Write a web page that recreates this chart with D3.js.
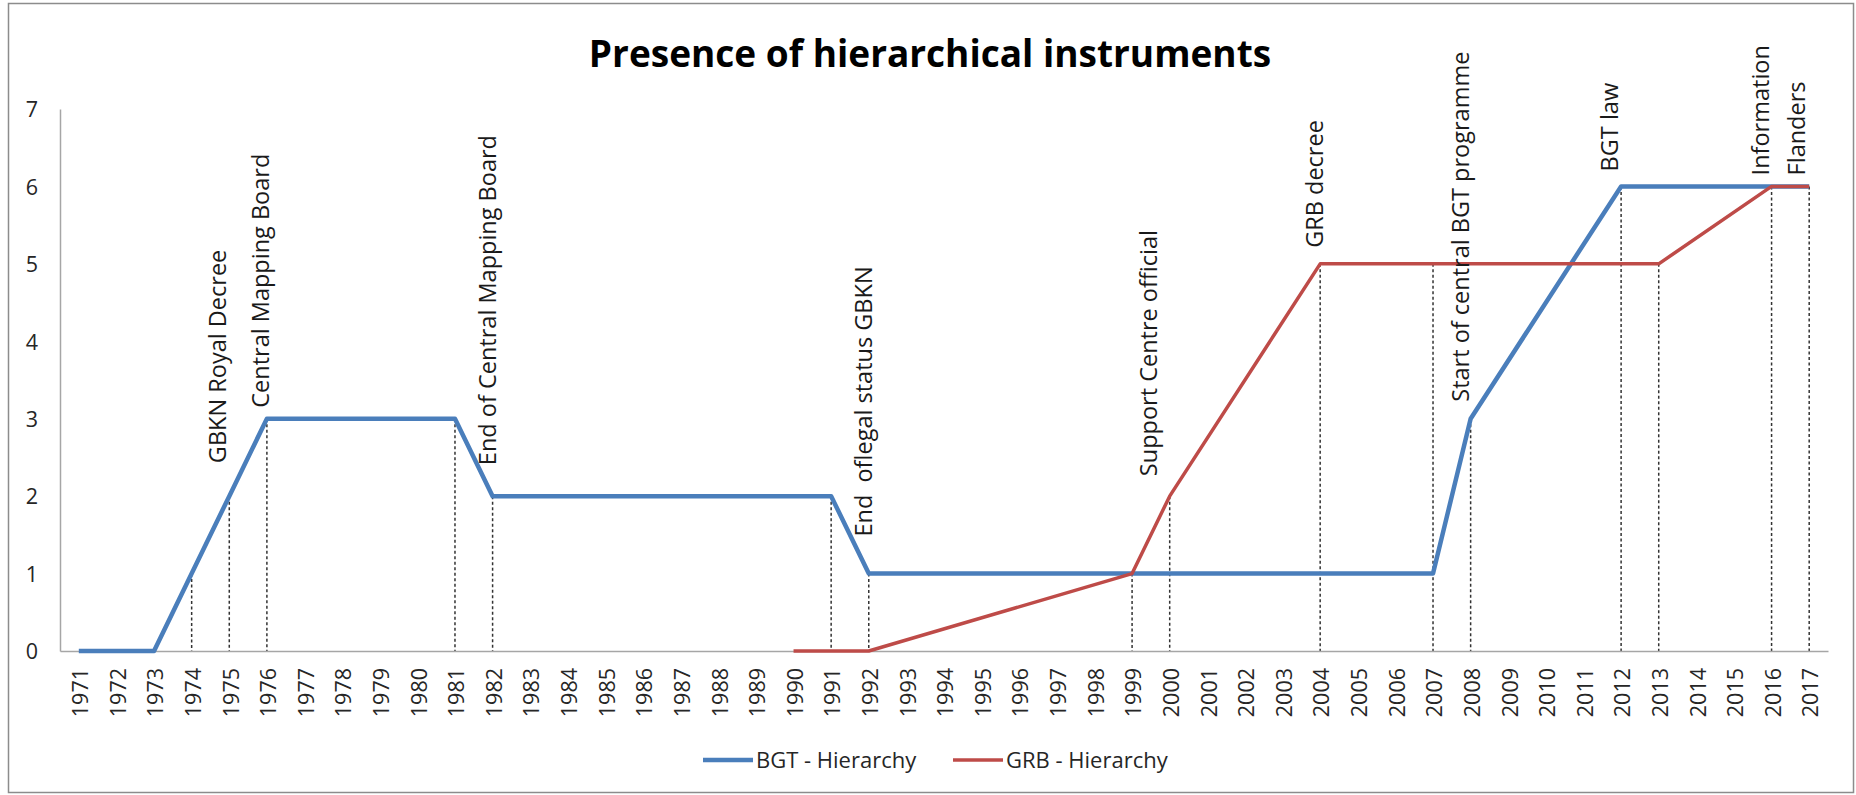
<!DOCTYPE html>
<html>
<head>
<meta charset="utf-8">
<script src="https://cdn.jsdelivr.net/npm/d3@7"></script>
<style>
  html, body { margin: 0; padding: 0; background: #fff; overflow: hidden; }
  svg { display: block; font-family: "Open Sans", sans-serif; }
  .axis path { stroke: #a6a6a6; stroke-width: 1.5; }
  .axis text { fill: #262626; font-size: 21.5px; font-family: "Open Sans", sans-serif; }
  .event { fill: #1a1a1a; font-size: 23.5px; white-space: pre; }
  .legend text { fill: #262626; font-size: 22px; }
</style>
</head>
<body>
<svg class="canvas"></svg>
<script>
var years = ["1971","1972","1973","1974","1975","1976","1977","1978","1979","1980",
  "1981","1982","1983","1984","1985","1986","1987","1988","1989","1990",
  "1991","1992","1993","1994","1995","1996","1997","1998","1999","2000",
  "2001","2002","2003","2004","2005","2006","2007","2008","2009","2010",
  "2011","2012","2013","2014","2015","2016","2017"];

// null = no value that year, the line runs straight on to the next one
var bgtHierarchy = [0, 0, 0, 1, 2, 3, null, null, null, null,
  3, 2, null, null, null, null, null, null, null, null,
  2, 1, null, null, null, null, null, null, 1, null,
  null, null, null, null, null, null, 1, 3, null, null,
  null, 6, null, null, null, 6, 6];

var grbHierarchy = [null, null, null, null, null, null, null, null, null, null,
  null, null, null, null, null, null, null, null, null, 0,
  0, 0, null, null, null, null, null, null, 1, 2,
  null, null, null, 5, null, null, 5, null, null, null,
  null, null, 5, null, null, 6, 6];

var seriesNames = ["BGT - Hierarchy", "GRB - Hierarchy"];
var yTicks = [0, 1, 2, 3, 4, 5, 6, 7];

var eventYears = ["1975", "1976", "1982", "1992", "2000", "2004", "2008", "2012", "2016"];
var eventLabels = [["GBKN Royal Decree"], ["Central Mapping Board"], ["End of Central Mapping Board"],
  ["End  oflegal status GBKN"], ["Support Centre official"], ["GRB decree"],
  ["Start of central BGT programme"], ["BGT law"], ["Information", "Flanders"]];

// placement of the event labels (px above the point, px sideways)
var eventLift = [33, 11, 31, 37, 20, 16, 17, 15, 11];
var eventShift = [-3, 2, 3, 3, -13, 3, -2, -3, -2.5];

function display() {
  var width = 1856;
  var height = 795;
  var colors = ["#4a7ebb", "#be4b48"];
  var widths = [4.5, 3.5];
  var series = [bgtHierarchy, grbHierarchy];

  var x = d3.scaleBand().domain(years).range([60, 1828]);
  var y = d3.scaleLinear().domain([0, 7]).range([651, 109]);
  var cx = function(yr) { return x(yr) + x.bandwidth() / 2; };

  var canvas = d3.select(".canvas")
    .attr("width", width)
    .attr("height", height);

  canvas.append("rect")
    .attr("x", 8.5).attr("y", 3.5)
    .attr("width", 1845).attr("height", 789)
    .attr("fill", "#fff")
    .attr("stroke", "#8c8c8c")
    .attr("stroke-width", 1.5);

  canvas.append("text")
    .attr("x", 930)
    .attr("y", 67)
    .attr("text-anchor", "middle")
    .style("font-size", "37px")
    .style("font-weight", "bold")
    .style("fill", "#000")
    .text("Presence of hierarchical instruments");

  // highest value at each year, for the drop lines and the labels
  var tops = years.map(function(yr, i) {
    var vals = series.map(function(s) { return s[i]; }).filter(function(v) { return v !== null; });
    return vals.length ? d3.max(vals) : null;
  });

  canvas.append("g")
    .selectAll("line")
    .data(years.filter(function(yr, i) { return tops[i] > 0; }))
    .enter()
    .append("line")
    .attr("x1", function(d) { return cx(d); })
    .attr("x2", function(d) { return cx(d); })
    .attr("y1", function(d) { return y(tops[years.indexOf(d)]); })
    .attr("y2", y(0))
    .attr("stroke", "#333")
    .attr("stroke-width", 1.5)
    .attr("stroke-dasharray", "3,2.5");

  var yAxis = d3.axisLeft(y).tickValues(yTicks).tickFormat(d3.format("d")).tickSize(0).tickPadding(22);
  canvas.append("g")
    .attr("class", "y axis")
    .attr("transform", "translate(60,0)")
    .call(yAxis)
    .selectAll("text")
    .attr("dy", "0.36em");

  var xAxis = d3.axisBottom(x).tickSize(0).tickSizeOuter(0);
  canvas.append("g")
    .attr("class", "x axis")
    .attr("transform", "translate(0," + y(0) + ")")
    .call(xAxis)
    .selectAll("text")
    .attr("text-anchor", "end")
    .attr("transform", "translate(1.5,17) rotate(-90)")
    .attr("x", 0)
    .attr("y", 0)
    .attr("dy", "0.36em");

  var line = d3.line()
    .x(function(d) { return cx(d.year); })
    .y(function(d) { return y(d.value); });

  series.forEach(function(s, k) {
    var pts = years.map(function(yr, i) { return { year: yr, value: s[i] }; })
      .filter(function(d) { return d.value !== null; });
    canvas.append("path")
      .datum(pts)
      .attr("fill", "none")
      .attr("stroke", colors[k])
      .attr("stroke-width", widths[k])
      .attr("stroke-linejoin", "round")
      .attr("d", line);
  });

  var events = canvas.selectAll(".event")
    .data(eventYears)
    .enter()
    .append("text")
    .attr("class", "event")
    .attr("transform", function(d, i) {
      var px = cx(d) + eventShift[i];
      var py = y(tops[years.indexOf(d)]) - eventLift[i];
      return "translate(" + px + "," + py + ") rotate(-90)";
    })
    .attr("dy", "0.36em");

  events.each(function(d, i) {
    var t = d3.select(this);
    eventLabels[i].forEach(function(txt, j) {
      t.append("tspan")
        .attr("x", 0)
        .attr("dy", j === 0 ? 0 : "1.55em")
        .text(txt);
    });
  });

  var legendX = [703, 953];
  var legend = canvas.append("g").attr("class", "legend");
  seriesNames.forEach(function(name, k) {
    legend.append("line")
      .attr("x1", legendX[k]).attr("x2", legendX[k] + 50)
      .attr("y1", 760).attr("y2", 760)
      .attr("stroke", colors[k])
      .attr("stroke-width", widths[k]);
    legend.append("text")
      .attr("x", legendX[k] + 53)
      .attr("y", 760)
      .attr("dy", "0.36em")
      .text(name);
  });
}

display();
</script>
</body>
</html>
